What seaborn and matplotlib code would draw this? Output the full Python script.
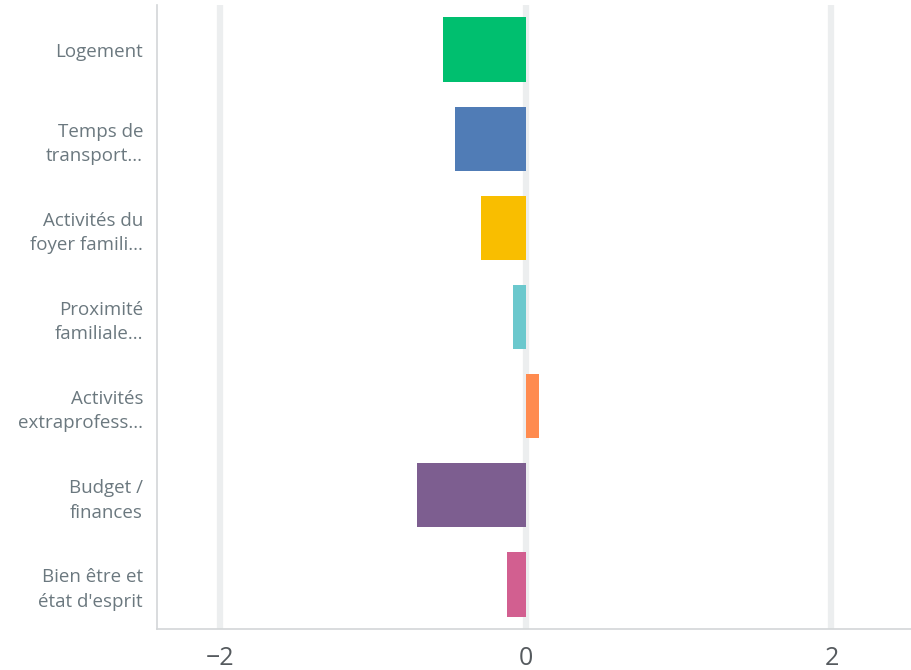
import pandas as pd
import seaborn as sns
import matplotlib
matplotlib.use("Agg")
import matplotlib.pyplot as plt

# data
categories = ["Logement", "Temps de\ntransport...", "Activités du\nfoyer famili...",
              "Proximité\nfamiliale...", "Activités\nextraprofess...", "Budget /\nfinances",
              "Bien être et\nétat d'esprit"]
values = [-0.54, -0.46, -0.29, -0.08, 0.085, -0.71, -0.12]
colors = ["#00BF6F", "#507CB6", "#F9BE00", "#6BC8CD", "#FF8B4F", "#7D5E90", "#D25F90"]
x_ticks = [-2, 0, 2]
x_tick_labels = ["−2", "0", "2"]

df = pd.DataFrame({"cat": categories, "val": values})

sns.set_style("white")
plt.rcParams["font.family"] = ["Open Sans", "DejaVu Sans"]

fig = plt.figure(figsize=(9.11, 6.7), dpi=100)
ax = fig.add_axes([157 / 911, 41 / 670, 1 - 157 / 911, 624 / 670])

sns.barplot(data=df, x="val", y="cat", hue="cat", palette=colors, orient="h",
            width=0.72, legend=False, saturation=1, linewidth=0, ax=ax, zorder=3)

ax.set_xlim(-2.41, 2.52)
ax.set_ylim(6.5, -0.5)
ax.set_xticks(x_ticks)
ax.set_xticklabels(x_tick_labels, fontsize=18, color="#555a5e")
ax.tick_params(axis="x", length=0, pad=12)
ax.tick_params(axis="y", length=0, pad=10, labelsize=13.5, labelcolor="#6b787f")
for lab in ax.get_yticklabels():
    lab.set_linespacing(1.45)
ax.xaxis.grid(True, color="#eceeef", linewidth=4.5, zorder=0)
ax.set_axisbelow(True)
ax.set_xlabel("")
ax.set_ylabel("")

for s in ["top", "right"]:
    ax.spines[s].set_visible(False)
for s in ["left", "bottom"]:
    ax.spines[s].set_color("#d3d6d8")
    ax.spines[s].set_linewidth(1.2)

fig.savefig("out.png", dpi=100)
